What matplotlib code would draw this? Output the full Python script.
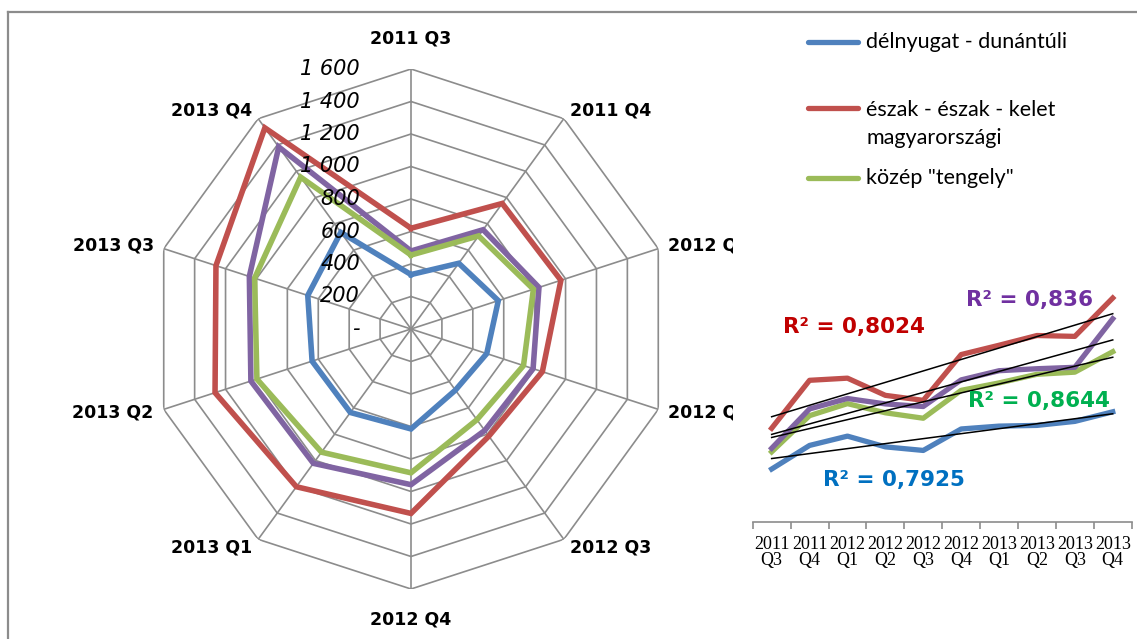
import numpy as np
import matplotlib
matplotlib.use("Agg")
import matplotlib.pyplot as plt
from matplotlib.lines import Line2D
from matplotlib.patches import Rectangle
from matplotlib.transforms import offset_copy

# quarters shown on the radar / line chart
quarters = ["2011 Q3", "2011 Q4", "2012 Q1", "2012 Q2", "2012 Q3",
            "2012 Q4", "2013 Q1", "2013 Q2", "2013 Q3", "2013 Q4"]

# regional series
delnyugat = [335, 500, 565, 490, 465, 615, 635, 640, 668, 735]
eszak = [620, 955, 970, 850, 815, 1135, 1200, 1268, 1262, 1530]
kozep = [455, 708, 792, 728, 690, 885, 937, 997, 1012, 1155]
negyedik = [480, 755, 828, 790, 772, 958, 1022, 1036, 1046, 1385]

series_names = ["délnyugat - dunántúli", "észak - észak - kelet\nmagyarországi", 'közép "tengely"']
colors = ["#4F81BD", "#C0504D", "#9BBB59", "#8064A2"]
r2_labels = ["R² = 0,7925", "R² = 0,8024", "R² = 0,8644", "R² = 0,836"]
r2_colors = ["#0070C0", "#C00000", "#00B050", "#7030A0"]

ring_values = [0, 200, 400, 600, 800, 1000, 1200, 1400, 1600]

W, H = 1137, 639
fig = plt.figure(figsize=(W / 100, H / 100), dpi=100)

# ---- radar chart ----
cx, cy, rad = 411, 329, 260
ax = fig.add_axes([(cx - rad) / W, 1 - (cy + rad) / H, 2 * rad / W, 2 * rad / H], projection="polar")
ax.set_theta_offset(np.pi / 2)
ax.set_theta_direction(-1)
ax.set_ylim(0, 1600)

n = len(quarters)
angles = np.arange(n) * 2 * np.pi / n
closed = np.append(angles, angles[0])

# polygon grid + spokes
for v in ring_values[1:]:
    ax.plot(closed, [v] * (n + 1), color="#8c8c8c", lw=1.2, zorder=1)
for a in angles:
    ax.plot([a, a], [0, 1600], color="#8c8c8c", lw=1.2, zorder=1)
ax.grid(False)
ax.spines["polar"].set_visible(False)
ax.set_xticks([])
ax.set_yticks([])

all_series = [delnyugat, eszak, kozep, negyedik]
draw_order = [1, 3, 2, 0]
for i in draw_order:
    vals = all_series[i]
    ax.plot(closed, vals + vals[:1], color=colors[i], lw=4, zorder=3, solid_joinstyle="miter")

# radial tick labels
tr = offset_copy(ax.transData, fig=fig, x=-51, y=0, units="dots")
for v in ring_values:
    lab = "-" if v == 0 else f"{v:,}".replace(",", " ")
    ax.text(0, v, lab, transform=tr, ha="right", va="center", fontsize=15,
            style="italic", family="DejaVu Sans", zorder=4)

# category labels
for a, q in zip(angles, quarters):
    s = np.sin(a)
    if abs(s) < 0.1:
        ax.text(a, 1785, q, ha="center", va="center", fontsize=12.5, fontweight="bold")
    else:
        ax.text(a, 1665, q, ha="left" if s > 0 else "right", va="center",
                fontsize=12.5, fontweight="bold")

# white chart area of the inset covers the right-hand labels
fig.add_artist(Rectangle((733 / W, 1 - 605 / H), (W - 733) / W, (605 - 195) / H,
                         transform=fig.transFigure, facecolor="white", edgecolor="none", zorder=1))

# ---- legend ----
leg_y = [42, 108, 178]
for i, (name, y) in enumerate(zip(series_names, leg_y)):
    yf = 1 - y / H
    fig.add_artist(Line2D([808 / W, 858 / W], [yf, yf], color=colors[i], lw=3.8,
                          transform=fig.transFigure, zorder=3, solid_capstyle="round"))
    ty = 1 - 124 / H if "\n" in name else yf
    fig.text(866 / W, ty, name, ha="left", va="center",
             fontsize=15.5, family="Lato", linespacing=1.45, zorder=3)

# ---- inset line chart with trendlines ----
x0, x1, yb, yt = 752.7, 1131.7, 522, 288
ax2 = fig.add_axes([x0 / W, 1 - yb / H, (x1 - x0) / W, (yb - yt) / H], zorder=2)
ax2.set_facecolor("none")
x = np.arange(n)
for i in [0, 2, 3, 1]:
    ax2.plot(x, all_series[i], color=colors[i], lw=3.8, zorder=3)
for i in range(4):
    k, b = np.polyfit(x, all_series[i], 1)
    ax2.plot(x, k * x + b, color="black", lw=1.1, zorder=4)
ax2.set_xlim(-0.5, 9.5)
ax2.set_ylim(-35, 1600)
ax2.set_yticks([])
for s in ["left", "right", "top"]:
    ax2.spines[s].set_visible(False)
ax2.spines["bottom"].set_color("#8c8c8c")
ax2.spines["bottom"].set_linewidth(1.2)
ax2.set_xticks(np.arange(n + 1) - 0.5)
ax2.set_xticklabels([])
ax2.tick_params(axis="x", length=5, color="#8c8c8c", width=1.2)
for xi, q in zip(x, quarters):
    ax2.text(xi, -0.06, q.replace(" ", "\n"), transform=ax2.get_xaxis_transform(),
             ha="center", va="top", fontsize=13, family="Liberation Serif", linespacing=0.95)

r2_pos = [(894, 480), (854, 327), (1039, 401), (1030, 300)]
for lab, col, (px, py) in zip(r2_labels, r2_colors, r2_pos):
    fig.text(px / W, 1 - py / H, lab, color=col, fontsize=15.5, fontweight="bold",
             ha="center", va="center", zorder=5)

# outer chart border
fig.add_artist(Line2D([8 / W, 8 / W], [0, 1 - 12 / H], color="#8c8c8c", lw=1.6, transform=fig.transFigure))
fig.add_artist(Line2D([8 / W, 1], [1 - 12 / H, 1 - 12 / H], color="#8c8c8c", lw=1.6, transform=fig.transFigure))

fig.savefig("out.png", dpi=100)
